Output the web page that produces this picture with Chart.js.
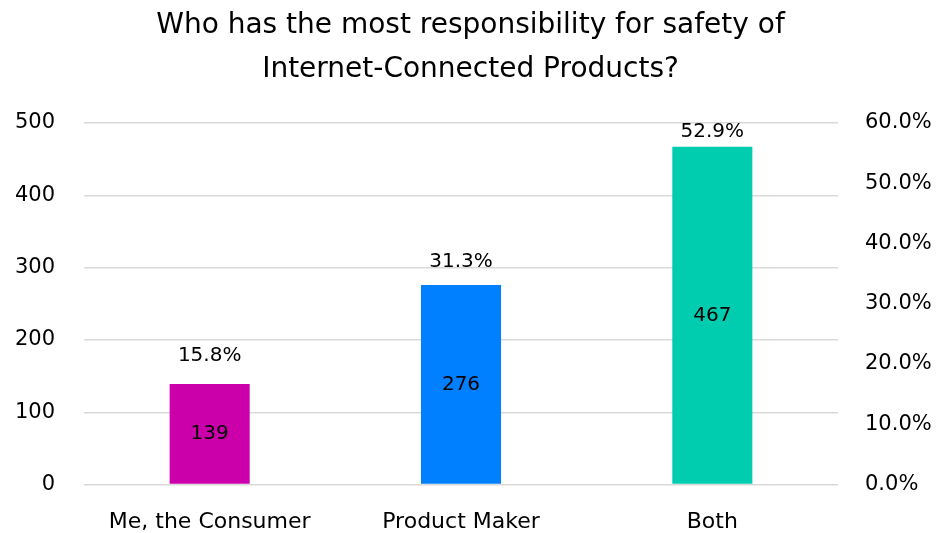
<!DOCTYPE html>
<html>
<head>
<meta charset="utf-8">
<script src="https://cdn.jsdelivr.net/npm/chart.js"></script>
<style>
  html, body { margin: 0; padding: 0; background: #fff; }
  #wrap { width: 941px; height: 533px; }
</style>
</head>
<body>
<div id="wrap"><canvas id="chart"></canvas></div>
<script>
const categories = ["Me, the Consumer", "Product Maker", "Both"];
const counts = [139, 276, 467];
const shares = [15.8, 31.3, 52.9];
const barColors = ["#CC00AA", "#0080FF", "#00CCB0"];

const FONT = "'DejaVu Sans', sans-serif";

// counts inside bars, shares above the hidden share line
const valueLabels = {
  id: "valueLabels",
  afterDatasetsDraw(chart) {
    const ctx = chart.ctx;
    ctx.save();
    ctx.fillStyle = "#000";
    ctx.font = "20px " + FONT;
    ctx.textAlign = "center";
    ctx.textBaseline = "middle";
    chart.getDatasetMeta(0).data.forEach((bar, i) => {
      const mid = (bar.y + bar.base) / 2;
      ctx.fillText(String(counts[i]), bar.x, mid);
    });
    chart.getDatasetMeta(1).data.forEach((pt, i) => {
      ctx.fillText(shares[i].toFixed(1) + "%", pt.x, pt.y - 34);
    });
    ctx.restore();
  },
};

new Chart(document.getElementById("chart"), {
  data: {
    labels: categories,
    datasets: [
      {
        type: "bar",
        data: counts,
        backgroundColor: barColors,
        yAxisID: "y",
        barPercentage: 0.5,
        categoryPercentage: 0.637,
        order: 2,
      },
      {
        type: "line",
        data: shares,
        yAxisID: "y1",
        borderColor: "rgba(0,0,0,0)",
        pointRadius: 0,
        order: 1,
      },
    ],
  },
  options: {
    responsive: true,
    maintainAspectRatio: false,
    animation: false,
    layout: { padding: { left: 0, right: 0, top: 0, bottom: -18 } },
    plugins: {
      legend: { display: false },
      tooltip: { enabled: false },
      title: {
        display: true,
        text: ["Who has the most responsibility for safety of", "Internet-Connected Products?"],
        color: "#000",
        font: { family: FONT, size: 28, weight: "normal", lineHeight: 1.57 },
        padding: { top: 4, bottom: 31 },
      },
    },
    scales: {
      x: {
        grid: { display: false },
        border: { display: false },
        ticks: { color: "#000", font: { family: FONT, size: 22 }, padding: 16 },
      },
      y: {
        position: "left",
        min: 0,
        max: 500,
        afterFit: (s) => { s.width = 84; },
        ticks: { stepSize: 100, color: "#000", font: { family: FONT, size: 21 }, padding: 29 },
        grid: { color: "#d9d9d9", lineWidth: 1.5, drawTicks: false },
        border: { display: false },
      },
      y1: {
        position: "right",
        min: 0,
        max: 60,
        afterFit: (s) => { s.width = 103; },
        ticks: {
          stepSize: 10,
          color: "#000",
          font: { family: FONT, size: 21 },
          padding: 27,
          callback: (v) => v.toFixed(1) + "%",
        },
        grid: { display: false, drawTicks: false },
        border: { display: false },
      },
    },
  },
  plugins: [valueLabels],
});
</script>
</body>
</html>
